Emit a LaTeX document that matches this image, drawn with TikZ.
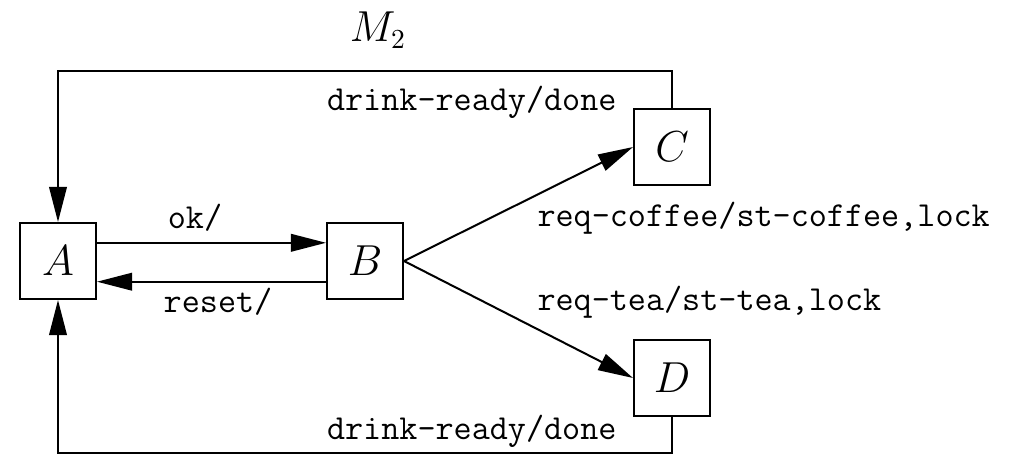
\documentclass[tikz,border=0pt]{standalone}
\usetikzlibrary{arrows.meta, positioning}

\begin{document}
\begin{tikzpicture}[x=0.014cm, y=-0.014cm,
    arrow/.style={-{Triangle[length=14pt, width=7pt]}, thick},
    state/.style={
        draw,
        thick,
        minimum width=1.064cm,
        minimum height=1.064cm,
        inner sep=0pt,
        font=\fontsize{16}{18}\selectfont
    },
    lbl/.style={font=\fontsize{14}{16}\selectfont\ttfamily, inner sep=0pt}]

    \useasboundingbox (0,0) rectangle (1015,455);

    % Machine name
    \node[font=\fontsize{16}{18}\selectfont] (name) at (378,30) {$M_2$};

    % States
    \node[state] (A) at (58,261) {$A$};
    \node[state] (B) at (365,261) {$B$};
    \node[state] (C) at (672,147) {$C$};
    \node[state] (D) at (672,378) {$D$};

    % Return corners
    \coordinate (tr) at (672,71);
    \coordinate (tl) at (58,71);
    \coordinate (br) at (672,453);
    \coordinate (bl) at (58,453);

    % A <-> B
    \draw[arrow] ([yshift=0.255cm]A.east) -- ([yshift=0.255cm]B.west);
    \draw[arrow] ([yshift=-0.29cm]B.west) -- ([yshift=-0.29cm]A.east);
    \node[lbl] (ok) at (195,218) {ok/};
    \node[lbl] (reset) at (218,302) {reset/};

    % B -> C, B -> D
    \draw[arrow] (B.east) -- (C.west);
    \draw[arrow] (B.east) -- (D.west);
    \node[lbl, anchor=west] (coffee) at (537,218) {req-coffee/st-coffee,lock};
    \node[lbl, anchor=west] (tea) at (537,302) {req-tea/st-tea,lock};

    % back to A
    \draw[arrow] (C.north) -- (tr) -- (tl) -- (A.north);
    \draw[arrow] (D.south) -- (br) -- (bl) -- (A.south);
    \node[lbl, anchor=east] (done1) at (617,102) {drink-ready/done};
    \node[lbl, anchor=east] (done2) at (617,431) {drink-ready/done};

\end{tikzpicture}
\end{document}
